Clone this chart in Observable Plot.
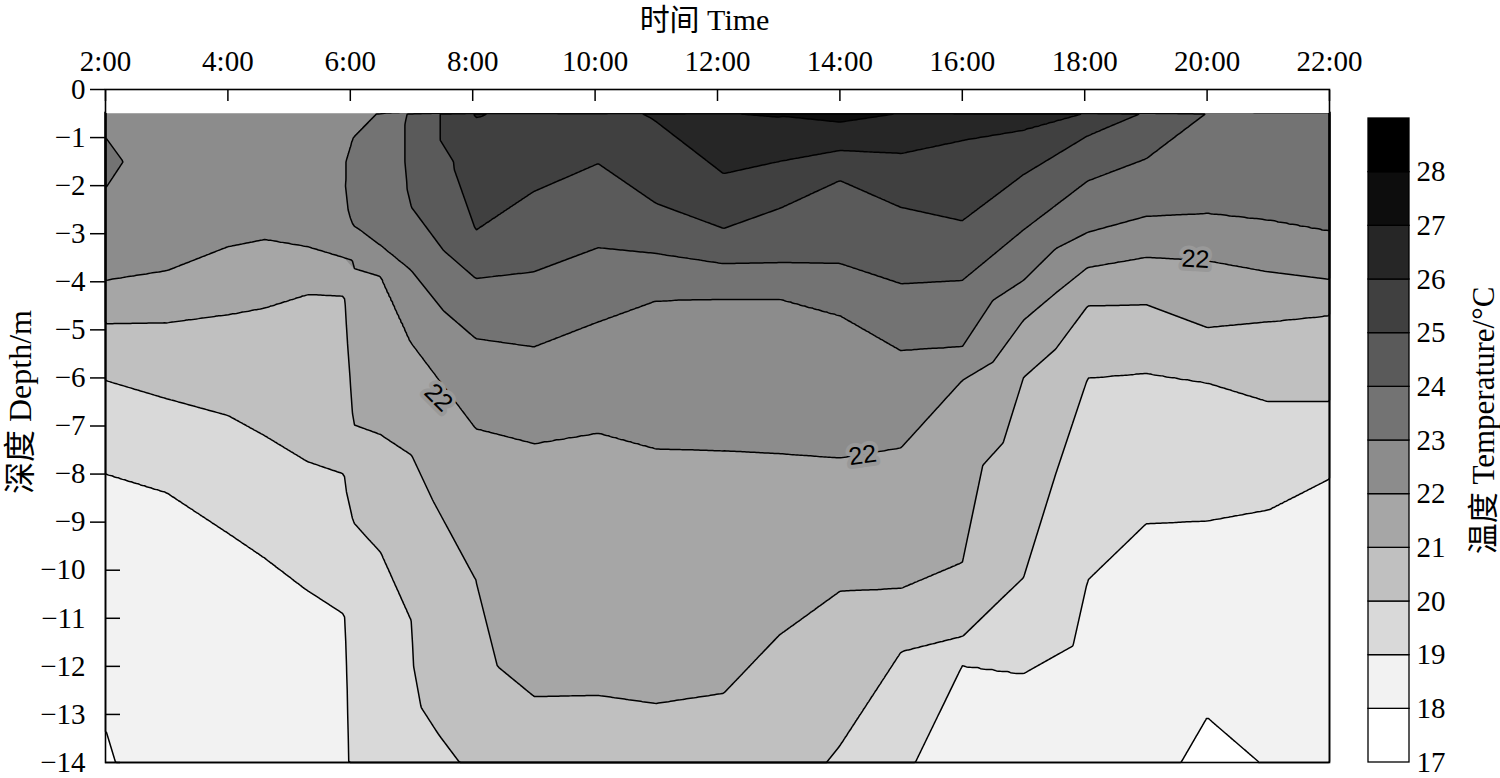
<!DOCTYPE html>
<html><head><meta charset="utf-8">
<script src="https://cdn.jsdelivr.net/npm/d3@7"></script>
<script src="https://cdn.jsdelivr.net/npm/@observablehq/plot@0.6"></script>
<style>
body{margin:0;background:#fff}
#wrap{position:relative;width:1500px;height:778px;overflow:hidden;background:#fff}
#wrap svg{position:absolute;top:0}
</style></head><body><div id="wrap"></div>
<script>
// Profile times (hours) and temperature profiles [depth m, temperature °C]
const times = [2, 3, 4, 4.6, 5.3, 5.9, 6.05, 6.5, 7, 8.05, 9, 10.05, 11, 12.1, 13, 14, 15, 16, 17, 18.05, 19, 20, 21, 22];
const p0200 = [[0.5,22.8],[1,23.0],[1.5,23.08],[2.05,23],[3.97,22],[4.87,21],[6.05,20],[7.99,19],[10.5,18.5],[13.3,18],[14,17.9]];
const p0300 = [[0.5,22.75],[1.5,22.8],[3,22.45],[3.77,22],[4.85,21],[6.43,20],[8.38,19],[11,18.6],[14,18.5]];
const p0400 = [[0.5,22.7],[1.5,22.75],[2.5,22.5],[3.27,22],[4.68,21],[6.78,20],[9.22,19],[11.5,18.6],[14,18.5]];
const p0436 = [[0.5,22.7],[1.5,22.7],[2.5,22.4],[3.12,22],[4.54,21],[7.2,20],[9.74,19],[12,18.65],[14,18.55]];
const p0518 = [[0.5,22.75],[1.5,22.75],[2.5,22.45],[3.27,22],[4.26,21],[5,20.79],[6,20.5],[7,20.21],[7.74,20],[9,19.53],[10.42,19],[11.2,18.78],[12,18.7],[13,18.65],[14,18.6]];
const p0554 = [[0.5,22.7],[1,22.9],[1.5,22.95],[2,22.95],[2.5,22.85],[3,22.6],[3.5,22],[4,21.15],[4.5,20.9],[5,20.78],[5.5,20.65],[6,20.5],[6.5,20.38],[7,20.25],[7.5,20.12],[8,20],[8.5,19.83],[9,19.66],[9.5,19.49],[10,19.32],[10.5,19.15],[11,18.97],[11.5,18.9],[12,18.85],[12.5,18.8],[13,18.77],[13.5,18.73],[14,18.7]];
const p0603 = [[0.5,22.7],[1,23],[1.5,23.2],[2,23.3],[2.5,23.2],[3,22.9],[3.5,22.1],[4,21.87],[4.5,21.72],[5,21.58],[5.5,21.43],[6,21.28],[6.5,21.14],[7,20.99],[7.5,20.74],[8,20.5],[8.5,20.25],[9,20],[9.5,19.85],[10,19.7],[10.5,19.6],[11,19.5],[11.5,19.47],[12,19.43],[12.5,19.4],[13,19.37],[13.5,19.33],[14,19.3]];
const p0630 = [[0.5,23.05],[1.5,23.45],[2.5,23.4],[3.25,23],[3.89,22],[5.5,21.5],[7.18,21],[9.63,20],[11,19.75],[12.5,19.68],[14,19.6]];
const p0700 = [[0.5,24.15],[1.5,24.15],[2,24.1],[2.45,24],[3.77,23],[5.28,22],[7.6,21],[9.3,20.5],[11.05,20],[12,19.97],[13,19.85],[14,19.4]];
const p0803 = [[0.5,26.05],[1.5,25.45],[2.93,25],[3.93,24],[5.18,23],[7.05,22],[10.2,21],[12,20.85],[14,20.2]];
const p0900 = [[0.5,25.8],[1.2,25.5],[2.12,25],[3.79,24],[5.35,23],[7.36,22],[10,21.5],[12,21.25],[12.62,21],[14,20.7]];
const p1003 = [[0.5,25.7],[1.54,25],[3.29,24],[4.83,23],[7.14,22],[10,21.48],[12.6,21],[14,20.7]];
const p1100 = [[0.5,26.1],[2.37,25],[3.41,24],[4.39,23],[7.47,22],[10,21.5],[12.77,21],[14,20.7]];
const p1206 = [[0.5,26.98],[1.75,26],[2.89,25],[3.62,24],[4.35,23],[7.51,22],[10,21.5],[12.56,21],[14,20.6]];
const p1300 = [[0.5,27.08],[1.5,26],[2.48,25],[3.6,24],[4.35,23],[7.57,22],[9.5,21.5],[11.36,21],[14,20.35]];
const p1400 = [[0.5,27.3],[1.27,26],[1.89,25],[3.62,24],[4.7,23],[7.66,22],[10.44,21],[13.65,20],[14,19.9]];
const p1500 = [[0.5,26.98],[1.33,26],[2.45,25],[4.04,24],[5.43,23],[7.45,22],[10.38,21],[11.7,20],[14,19.15]];
const p1600 = [[0.5,26.4],[1.06,26],[2.73,25],[3.97,24],[5.35,23],[6.05,22],[9.84,21],[11.38,20],[11.98,19],[14,18.5]];
const p1700 = [[0.5,26.25],[0.85,26],[1.77,25],[2.92,24],[3.97,23],[4.8,22],[5.99,21],[8,20.5],[10.15,20],[12.15,19],[14,18.5]];
const p1803 = [[0.5,25.98],[0.96,25],[1.9,24],[2.97,23],[3.7,22],[4.5,21],[6,20],[8,19.5],[10.2,19],[12,18.7],[14,18.5]];
const p1900 = [[0.5,24.9],[1.44,24],[2.64,23],[3.49,22],[4.47,21],[5.9,20],[7.5,19.5],[9.03,19],[11.5,18.6],[14,18.4]];
const p2000 = [[0.5,23.98],[2.58,23],[3.56,22],[4.95,21],[6.1,20],[7.5,19.5],[8.97,19],[11,18.5],[13.06,18],[14,17.7]];
const p2100 = [[0.5,23.7],[2.72,23],[3.79,22],[4.83,21],[6.49,20],[8.74,19],[11,18.5],[14,18.05]];
const p2200 = [[0.5,23.6],[2.95,23],[3.95,22],[4.7,21],[6.49,20],[8.09,19],[11,18.6],[14,18.3]];
const profiles = [p0200,p0300,p0400,p0436,p0518,p0554,p0603,p0630,p0700,p0803,p0900,p1003,p1100,p1206,p1300,p1400,p1500,p1600,p1700,p1803,p1900,p2000,p2100,p2200];

const topDepth = -0.5;                 // shallowest measured depth
const levels = [17,18,19,20,21,22,23,24,25,26,27,28];
const grays = ["#ffffff","#f2f2f2","#d9d9d9","#c0c0c0","#a6a6a6","#8c8c8c","#737373","#5a5a5a","#404040","#262626","#0d0d0d","#000000"];
const xTicks = [2,4,6,8,10,12,14,16,18,20,22];
const yTicks = [0,-1,-2,-3,-4,-5,-6,-7,-8,-9,-10,-11,-12,-13,-14];
const yTicksOut = [0,-1,-2,-3,-4,-5,-6,-7,-8,-9];
const yTicksIn = [-10,-11,-12,-13,-14];
const contourLabels = [
  {time: 7.44, depth: -6.41, angle: 45, label: "22"},
  {time: 14.37, depth: -7.61, angle: -8, label: "22"},
  {time: 19.81, depth: -3.53, angle: 3, label: "22"}
];

const samples = [];
profiles.forEach((p, i) => p.forEach(([d, v]) => samples.push({time: times[i], depth: -d, temp: v})));

// contour thresholds sit a hair below each isotherm so that readings exactly on an isotherm are inside it
const eps = 0.001;
const fillThresholds = levels.map(l => l - eps);
const lineThresholds = levels.slice(1).map(l => l - eps);
const color = {type: "threshold", domain: levels.slice(1).map(l => l - 0.5), range: grays};
const serif = "'Liberation Serif','Times New Roman','Noto Sans CJK SC',serif";
const fmtDepth = d => d === 0 ? "0" : "\u2212" + Math.abs(d);

const main = Plot.plot({
  width: 1500, height: 778,
  marginLeft: 105, marginRight: 171, marginTop: 89, marginBottom: 16,
  x: {domain: [2, 22]},
  y: {domain: [-14, 0]},
  color,
  style: {fontFamily: serif, fontSize: "29px", color: "black", background: "white"},
  marks: [
    Plot.contour(samples, {x: "time", y: "depth", fill: "temp", interpolate: "barycentric",
      thresholds: fillThresholds, x1: 2, x2: 22, y1: -14, y2: topDepth, pixelSize: 2}),
    Plot.contour(samples, {x: "time", y: "depth", value: "temp", interpolate: "barycentric",
      thresholds: lineThresholds, x1: 2, x2: 22, y1: -14, y2: topDepth + 0.05, pixelSize: 2,
      fill: "none", stroke: "black", strokeWidth: 1.5}),
    Plot.rect([topDepth], {y1: d => d, y2: 0, fill: "white"}),
    Plot.frame({stroke: "black", strokeWidth: 1.6}),
    Plot.axisX({anchor: "top", ticks: xTicks, tickSize: 0, tickPadding: 19, tickFormat: d => `${d}:00`, label: null, fontSize: 29}),
    Plot.axisX({anchor: "top", ticks: xTicks, tickSize: 11, dy: 11, fill: "none", label: null, strokeWidth: 1.5}),
    Plot.axisY({anchor: "left", ticks: yTicks, tickSize: 0, tickPadding: 20, tickFormat: fmtDepth, label: null, fontSize: 29}),
    Plot.axisY({anchor: "left", ticks: yTicksOut, tickSize: 15, fill: "none", label: null, strokeWidth: 1.5}),
    Plot.axisY({anchor: "left", ticks: yTicksIn, tickSize: 15, dx: 15, fill: "none", label: null, strokeWidth: 1.5}),
    Plot.text(contourLabels, {x: "time", y: "depth", text: "label", rotate: "angle",
      fontFamily: "'Liberation Sans',Arial,sans-serif", fontSize: 25, fill: "black", stroke: "#999999", strokeWidth: 8}),
    Plot.text(["时间 Time"], {frameAnchor: "top", textAnchor: "middle", dx: -13, dy: -60, lineAnchor: "bottom", fontSize: 30}),
    Plot.text(["深度 Depth/m"], {frameAnchor: "left", textAnchor: "middle", lineAnchor: "middle", rotate: -90, dx: -85, dy: -24, fontSize: 32})
  ]
});

const bar = Plot.plot({
  width: 160, height: 778,
  marginLeft: 28, marginRight: 91, marginTop: 118, marginBottom: 16,
  y: {domain: [17, 29]},
  color,
  style: {fontFamily: serif, fontSize: "29px", color: "black", background: "transparent"},
  marks: [
    Plot.rect(levels, {y1: d => d, y2: d => d + 1, fill: d => d, stroke: "black", strokeWidth: 1.3}),
    Plot.axisY({anchor: "right", ticks: levels, tickSize: 0, tickPadding: 7, tickFormat: d => String(d), label: null, fontSize: 29}),
    Plot.text(["温度 Temperature/°C"], {frameAnchor: "right", textAnchor: "middle", lineAnchor: "middle", rotate: -90, dx: 75, dy: -20, fontSize: 31})
  ]
});
bar.style.left = "1340px";
main.style.left = "0px";
const wrap = document.getElementById("wrap");
wrap.appendChild(main);
wrap.appendChild(bar);
</script></body></html>
